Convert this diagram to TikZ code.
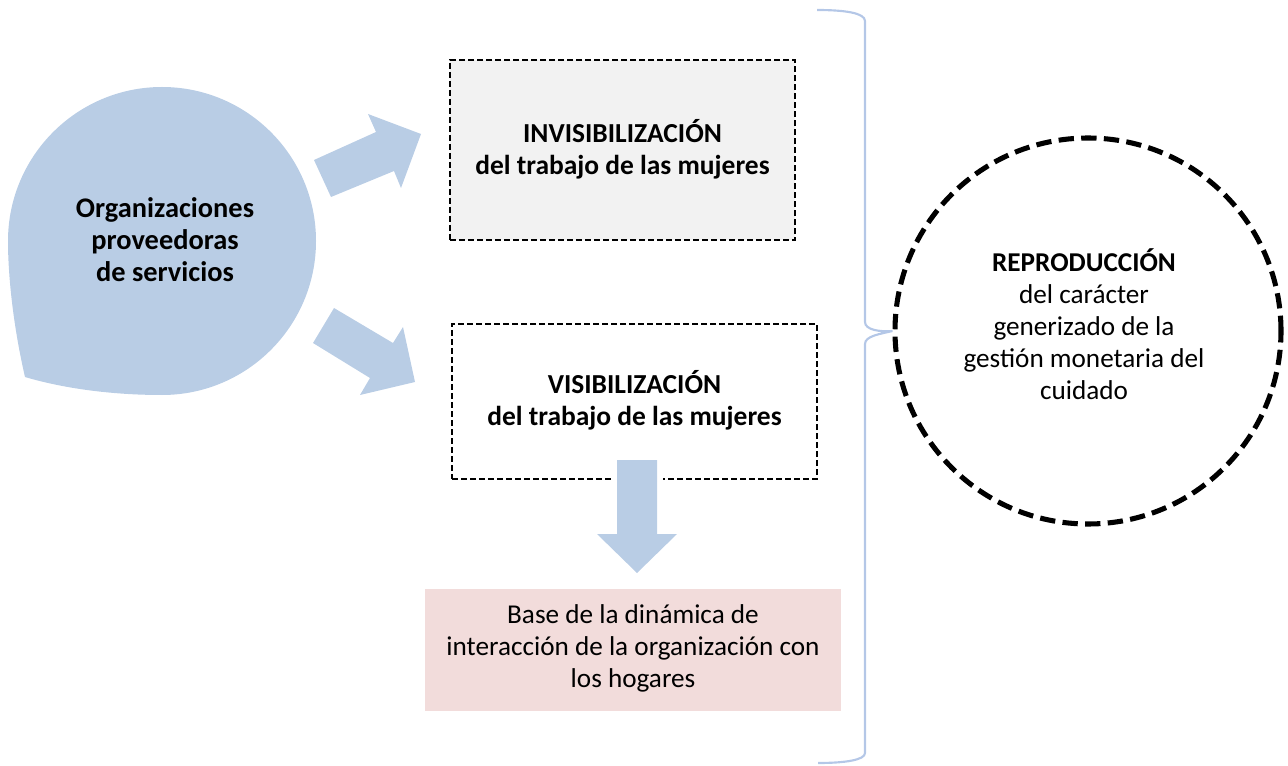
\documentclass[tikz,border=0pt]{standalone}
\usepackage{fontspec}
\setmainfont{Carlito}
\definecolor{blobblue}{HTML}{B9CDE5}
\definecolor{bracecol}{HTML}{B4C7E7}
\definecolor{boxgray}{HTML}{F2F2F2}
\definecolor{boxpink}{HTML}{F2DCDB}
\tikzset{
  txt/.style={align=center,font=\fontsize{20.4}{24}\selectfont,inner sep=0pt},
  dashbox/.style={draw=black,line width=1.1pt,dash pattern=on 4.5pt off 2.25pt,inner sep=0pt},
  blockarrow/.style={fill=blobblue,draw=none},
  bracestyle/.style={draw=bracecol,line width=1.6pt},
  bigcircle/.style={circle,draw=black,line width=3.8pt,dash pattern=on 11.5pt off 5.5pt,minimum size=289.5pt,inner sep=0pt}
}
\begin{document}
\begin{tikzpicture}[x=0.75pt,y=0.75pt]
\useasboundingbox (0,0) rectangle (1288,765);
% blob
\fill[blobblue] (8,524) arc[start angle=180,end angle=-90,radius=154]
  .. controls (110,370) and (62,377) .. (25,388)
  .. controls (13,440) and (8,490) .. (8,524) -- cycle;
\node[txt,font=\fontsize{21.3}{24}\selectfont\bfseries] (org) at (165,525) {Organizaciones\\proveedoras\\de servicios};
% boxes
\node[dashbox,fill=boxgray,minimum width=258.75pt,minimum height=135pt] (inv) at (622.5,615) {};
\node[txt,font=\fontsize{20.6}{24}\selectfont\bfseries] (invt) at (622.5,616) {INVISIBILIZACIÓN\\del trabajo de las mujeres};
\node[dashbox,minimum width=273.75pt,minimum height=116.25pt] (vis) at (634.5,363.5) {};
\node[txt,font=\fontsize{20.6}{24}\selectfont\bfseries] (vist) at (634.5,364.5) {VISIBILIZACIÓN\\del trabajo de las mujeres};
\node[fill=boxpink,minimum width=312pt,minimum height=91.5pt,inner sep=0pt] (base) at (633,115) {};
\node[txt] (baset) at (633,117) {Base de la dinámica de\\interacción de la organización con\\los hogares};
% block arrows
\fill[blockarrow] (314,605) -- (376,633) -- (368,651) -- (421,631) -- (401,577) -- (394,594) -- (331,568) -- cycle;
\fill[blockarrow] (334,457) -- (393,422) -- (403,438) -- (415,383) -- (360,370) -- (370,387) -- (313,422) -- cycle;
\fill[white] (611,283) rectangle (663,289);
\fill[blockarrow] (617,305) -- (657,305) -- (657,231) -- (677,231) -- (637,192) -- (597,231) -- (617,231) -- cycle;
% circle
\node[bigcircle] (rep) at (1088,434) {};
\node[txt] (rept) at (1084,441) {\textbf{REPRODUCCIÓN}\\del carácter\\generizado de la\\gestión monetaria del\\cuidado};
% brace
\coordinate (btop) at (817,755);
\coordinate (bbot) at (818,2);
\draw[bracestyle] (btop) .. controls (845,755) and (865,752) .. (865,744) -- (865,443)
  .. controls (865,435) and (880,433) .. (rep.west)
  .. controls (880,431) and (865,429) .. (865,421) -- (865,12)
  .. controls (865,5) and (845,2) .. (bbot);
\end{tikzpicture}
\end{document}
